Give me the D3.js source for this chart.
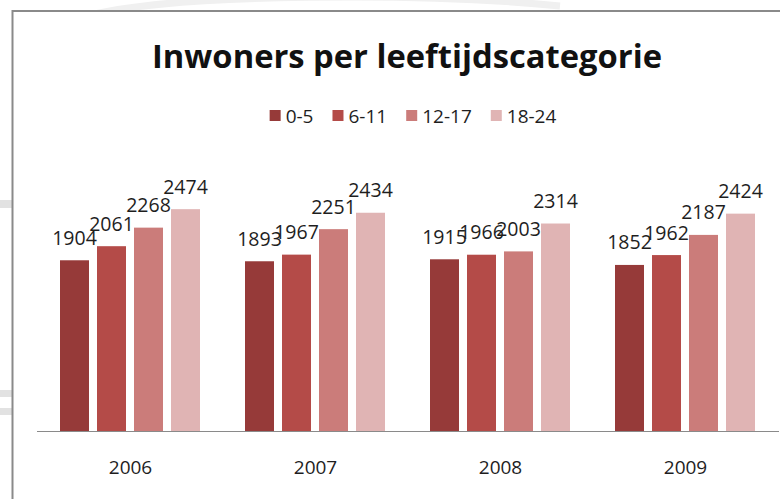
<!DOCTYPE html>
<html lang="nl">
<head>
    <meta charset="UTF-8">
    <title>Inwoners per leeftijdscategorie</title>
    <script src="https://cdnjs.cloudflare.com/ajax/libs/d3/7.8.5/d3.min.js"></script>
    <style>
        body {
            margin: 0;
            background: #fff;
            overflow: hidden;
        }
        svg {
            display: block;
            font-family: "Open Sans", "Noto Sans", sans-serif;
        }
    </style>
</head>
<body>
    <svg id="chart" width="780" height="499"></svg>

    <script>
        // chart data
        const years = ["2006", "2007", "2008", "2009"];
        const ageGroups = ["0-5", "6-11", "12-17", "18-24"];
        const group0to5 = [1904, 1893, 1915, 1852];
        const group6to11 = [2061, 1967, 1966, 1962];
        const group12to17 = [2268, 2251, 2003, 2187];
        const group18to24 = [2474, 2434, 2314, 2424];
        const colors = ["#963a39", "#b44b48", "#cb7c7a", "#e0b4b4"];

        const seriesValues = [group0to5, group6to11, group12to17, group18to24];

        const svg = d3.select("#chart");
        const W = 780, H = 499;

        // faint smudges outside the chart frame (from the screenshot)
        svg.append("path")
            .attr("d", "M95,14 C180,-6 420,-8 560,6")
            .attr("fill", "none")
            .attr("stroke", "#f0f0f0")
            .attr("stroke-width", 7);
        [[200, 8], [390, 7], [408, 7]].forEach(s => {
            svg.append("rect")
                .attr("x", 0).attr("y", s[0])
                .attr("width", 12).attr("height", s[1])
                .attr("fill", "#e2e2e2");
        });

        // chart frame
        svg.append("rect")
            .attr("x", 12.5).attr("y", 11)
            .attr("width", W).attr("height", H)
            .attr("fill", "#fff")
            .attr("stroke", "#8a8a8a")
            .attr("stroke-width", 2);

        // title
        const title = svg.append("text")
            .attr("x", 407)
            .attr("y", 68)
            .attr("text-anchor", "middle")
            .style("font-weight", "bold")
            .style("font-size", "32px")
            .style("fill", "#111")
            .text("Inwoners per leeftijdscategorie");
        // fit title to the width it has in the original
        const tw = title.node().getComputedTextLength();
        title.style("font-size", (32 * 510 / tw).toFixed(2) + "px");

        // scales
        const x0 = d3.scaleBand()
            .domain(years)
            .range([38, 778]);

        const x1 = d3.scaleBand()
            .domain(ageGroups)
            .range([22, 162])
            .paddingInner(8 / 37)
            .paddingOuter(0);

        const y = d3.scaleLinear()
            .domain([0, 3000])
            .range([431, 162]);

        // bars
        const groups = svg.selectAll(".year")
            .data(years)
            .enter()
            .append("g")
            .attr("class", "year")
            .attr("transform", d => `translate(${x0(d)},0)`);

        groups.selectAll("rect")
            .data((d, i) => ageGroups.map((a, j) => ({ age: a, value: seriesValues[j][i], color: colors[j] })))
            .enter()
            .append("rect")
            .attr("x", d => x1(d.age))
            .attr("y", d => y(d.value))
            .attr("width", x1.bandwidth())
            .attr("height", d => y(0) - y(d.value))
            .attr("fill", d => d.color);

        groups.selectAll(".lbl")
            .data((d, i) => ageGroups.map((a, j) => ({ age: a, value: seriesValues[j][i] })))
            .enter()
            .append("text")
            .attr("class", "lbl")
            .attr("x", d => x1(d.age) + x1.bandwidth() / 2)
            .attr("y", d => y(d.value) - 15.5)
            .attr("text-anchor", "middle")
            .style("font-size", "19.5px")
            .style("fill", "#1e1e1e")
            .text(d => d.value);

        // x axis
        const xAxis = svg.append("g")
            .attr("transform", `translate(0,${y(0)})`)
            .call(d3.axisBottom(x0).tickSize(0).tickPadding(30));
        xAxis.select(".domain")
            .attr("d", "M37,0.5H779")
            .attr("stroke", "#8a8a8a");
        xAxis.selectAll("text")
            .style("font-family", "\"Open Sans\", sans-serif")
            .style("font-size", "19px")
            .style("fill", "#1e1e1e");

        // legend
        const legend = svg.append("g").attr("transform", "translate(0,116)");
        let lx = 0;
        const items = [];
        ageGroups.forEach((a, i) => {
            const g = legend.append("g");
            g.append("rect")
                .attr("x", 0).attr("y", -6)
                .attr("width", 11).attr("height", 11)
                .attr("fill", colors[i]);
            const t = g.append("text")
                .attr("x", 16)
                .attr("y", 7)
                .style("font-size", "19px")
                .style("fill", "#1e1e1e")
                .text(a);
            items.push({ g: g, w: 16 + t.node().getComputedTextLength() });
        });
        const gap = 19;
        const total = d3.sum(items, d => d.w) + gap * (items.length - 1);
        lx = 413 - total / 2;
        items.forEach(it => {
            it.g.attr("transform", `translate(${lx},0)`);
            lx += it.w + gap;
        });
    </script>
</body>
</html>
